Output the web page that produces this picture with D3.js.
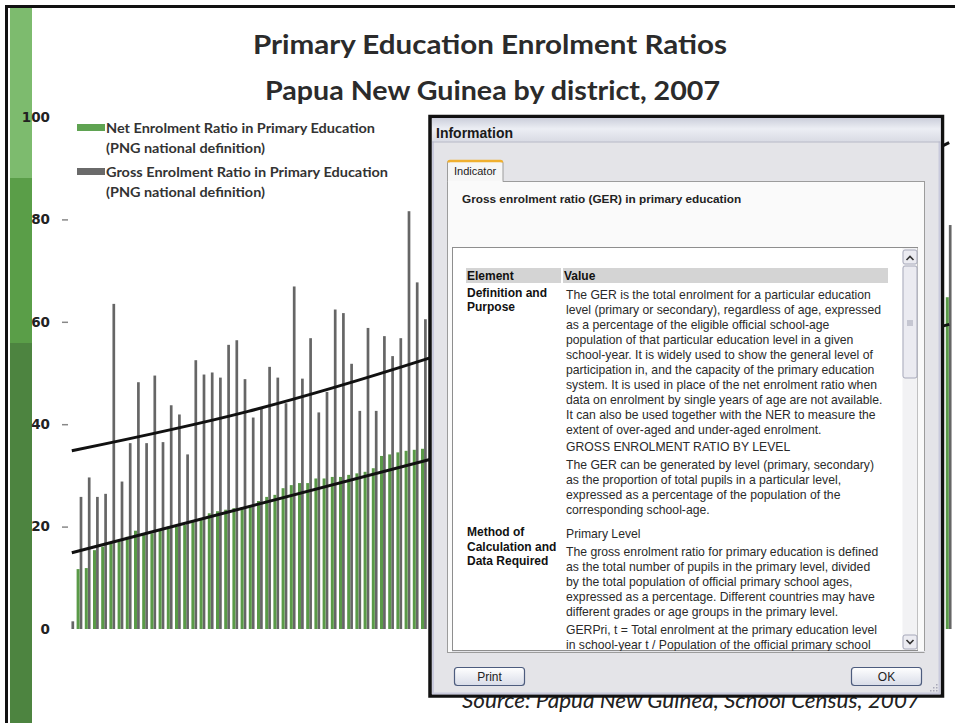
<!DOCTYPE html>
<html>
<head>
<meta charset="utf-8">
<script src="https://cdn.jsdelivr.net/npm/d3@7"></script>
<style>
  html, body { margin: 0; padding: 0; background: #fff; }
  svg { display: block; }
</style>
</head>
<body>
<div id="chart"></div>
<script>
// districts, sorted by net enrolment ratio (index position along the axis)
var districts = [0, 1, 2, 3, 4, 5, 6, 7, 8, 9, 10, 11, 12, 13, 14, 15, 16, 17, 18, 19, 20, 21,
	22, 23, 24, 25, 26, 27, 28, 29, 30, 31, 32, 33, 34, 35, 36, 37, 38, 39, 40, 41, 42, 43, 107];

var nerValues = [0, 11.7, 11.9, 15.4, 16.1, 16.7, 17.1, 18.0, 19.2, 18.4, 18.7, 19.3, 20.0, 20.0,
	20.3, 21.0, 21.3, 22.6, 23.0, 23.3, 23.6, 23.8, 24.2, 25.0, 25.8, 26.2, 27.5, 28.1, 28.5, 28.5,
	29.4, 29.4, 29.7, 29.7, 30.1, 30.4, 30.7, 31.4, 33.8, 34.1, 34.5, 34.8, 35.0, 35.2, 64.8];

var gerValues = [1.5, 25.8, 29.6, 25.8, 26.4, 63.5, 28.8, 36.3, 48.2, 36.3, 49.5, 36.5, 43.7, 41.9,
	34.1, 52.5, 49.7, 50.1, 49.1, 55.5, 56.4, 48.8, 41.3, 43.0, 51.2, 49.1, 44.1, 66.9, 48.9, 56.8,
	42.3, 46.3, 62.4, 61.7, 51.8, 42.6, 58.8, 42.6, 57.2, 53.3, 56.8, 81.6, 67.7, 60.5, 78.9];

// trend lines, [district position, value]
var nerTrend = [[0, 14.9], [107, 59.5]];
var gerTrend = [[0, 34.8], [21.5, 42.5], [43.2, 52.7], [75, 71], [107, 95]];

var yTicks = [0, 20, 40, 60, 80, 100];

var seriesNames = [
	['Net Enrolment Ratio in Primary Education', '(PNG national definition)'],
	['Gross Enrolment Ratio in Primary Education', '(PNG national definition)']
];
var legendWidths = [[269, 159], [282, 159]];

var titleLines = ['Primary Education Enrolment Ratios', 'Papua New Guinea by district, 2007'];
var titleWidths = [474, 455];
var sourceText = 'Source: Papua New Guinea, School Census, 2007';

// dialog text
var dialogTitle = 'Information';
var tabLabel = 'Indicator';
var indicatorName = 'Gross enrolment ratio (GER) in primary education';
var tableHead = ['Element', 'Value'];
var tableRows = [
	{
		label: ['Definition and', 'Purpose'],
		paras: [
			['The GER is the total enrolment for a particular education',
			 'level (primary or secondary), regardless of age, expressed',
			 'as a percentage of the eligible official school-age',
			 'population of that particular education level in a given',
			 'school-year. It is widely used to show the general level of',
			 'participation in, and the capacity of the primary education',
			 'system. It is used in place of the net enrolment ratio when',
			 'data on enrolment by single years of age are not available.',
			 'It can also be used together with the NER to measure the',
			 'extent of over-aged and under-aged enrolment.'],
			['GROSS ENROLMENT RATIO BY LEVEL'],
			['The GER can be generated by level (primary, secondary)',
			 'as the proportion of total pupils in a particular level,',
			 'expressed as a percentage of the population of the',
			 'corresponding school-age.']
		]
	},
	{
		label: ['Method of', 'Calculation and', 'Data Required'],
		paras: [
			['Primary Level'],
			['The gross enrolment ratio for primary education is defined',
			 'as the total number of pupils in the primary level, divided',
			 'by the total population of official primary school ages,',
			 'expressed as a percentage. Different countries may have',
			 'different grades or age groups in the primary level.'],
			['GERPri, t = Total enrolment at the primary education level',
			 'in school-year t / Population of the official primary school']
		]
	}
];
var buttons = ['Print', 'OK'];

var W = 955, H = 723;
var svg = d3.select('#chart').append('svg')
	.attr('width', W)
	.attr('height', H);

var defs = svg.append('defs');
var tg = defs.append('linearGradient').attr('id', 'titlebar').attr('x1', 0).attr('y1', 0).attr('x2', 0).attr('y2', 1);
tg.append('stop').attr('offset', '0%').attr('stop-color', '#cdd0dc');
tg.append('stop').attr('offset', '45%').attr('stop-color', '#eceef4');
tg.append('stop').attr('offset', '100%').attr('stop-color', '#d9dbe4');
var bg = defs.append('linearGradient').attr('id', 'btn').attr('x1', 0).attr('y1', 0).attr('x2', 0).attr('y2', 1);
bg.append('stop').attr('offset', '0%').attr('stop-color', '#ffffff');
bg.append('stop').attr('offset', '100%').attr('stop-color', '#d8dce8');

svg.append('rect').attr('width', W).attr('height', H).attr('fill', '#fff');

// slide frame and green side strip
svg.append('rect').attr('x', 5).attr('y', 5).attr('width', W - 5).attr('height', 3).attr('fill', '#111');
svg.append('rect').attr('x', 5).attr('y', 5).attr('width', 3).attr('height', H - 5).attr('fill', '#111');
svg.append('rect').attr('x', 10).attr('y', 8).attr('width', 22).attr('height', 170).attr('fill', '#7dbb6e');
svg.append('rect').attr('x', 10).attr('y', 178).attr('width', 22).attr('height', 165).attr('fill', '#5a9e48');
svg.append('rect').attr('x', 10).attr('y', 343).attr('width', 22).attr('height', H - 343).attr('fill', '#4d8440');

// title
svg.append('g').selectAll('text')
	.data(titleLines)
	.enter().append('text')
	.attr('x', function(d, i) { return i === 0 ? 253 : 265; })
	.attr('y', function(d, i) { return 54 + i * 46; })
	.attr('font-family', 'Lato, sans-serif')
	.attr('font-weight', 'bold')
	.attr('font-size', 26)
	.attr('textLength', function(d, i) { return titleWidths[i]; })
	.attr('lengthAdjust', 'spacingAndGlyphs')
	.attr('fill', '#2b2b2b')
	.text(function(d) { return d; });

// scales
var x = d3.scaleLinear().domain([0, 107]).range([72.8, 950.2]);
var y = d3.scaleLinear().domain([0, 100]).range([629, 117]);

// y axis
var yAxis = d3.axisLeft(y).tickValues(yTicks).tickSize(0).tickPadding(0);
var ax = svg.append('g').attr('transform', 'translate(50,0)').call(yAxis);
ax.select('.domain').remove();
ax.selectAll('text')
	.attr('font-family', 'DejaVu Sans, sans-serif')
	.attr('font-weight', 'bold')
	.attr('font-size', 13.5)
	.attr('fill', '#222');
ax.selectAll('.tick').filter(function(d) { return d > 0 && d < 100; })
	.append('line')
	.attr('x1', 12).attr('x2', 18)
	.attr('stroke', '#888').attr('stroke-width', 1.5);

var pairs = districts.map(function(d, i) { return { pos: d, ner: nerValues[i], ger: gerValues[i] }; });

var bars = svg.append('g').attr('class', 'bars');
bars.selectAll('rect.ger')
	.data(pairs)
	.enter().append('rect')
	.attr('class', 'ger')
	.attr('x', function(d) { return x(d.pos) - 1.35; })
	.attr('y', function(d) { return y(d.ger); })
	.attr('width', 2.7)
	.attr('height', function(d) { return y(0) - y(d.ger); })
	.attr('fill', '#666');
bars.selectAll('rect.ner')
	.data(pairs.filter(function(d) { return d.ner > 0; }))
	.enter().append('rect')
	.attr('class', 'ner')
	.attr('x', function(d) { return x(d.pos) - 4.4; })
	.attr('y', function(d) { return y(d.ner); })
	.attr('width', 3)
	.attr('height', function(d) { return y(0) - y(d.ner); })
	.attr('fill', '#5a9a48');

// trend lines
var line = d3.line()
	.x(function(d) { return x(d[0]) - 1; })
	.y(function(d) { return y(d[1]); });
svg.append('path')
	.attr('d', line.curve(d3.curveMonotoneX)(gerTrend))
	.attr('fill', 'none').attr('stroke', '#111').attr('stroke-width', 3);
svg.append('path')
	.attr('d', line.curve(d3.curveLinear)(nerTrend))
	.attr('fill', 'none').attr('stroke', '#111').attr('stroke-width', 3);

// legend
var legend = svg.append('g').attr('class', 'legend');
var legendColors = ['#5fa352', '#6a6a6a'];
seriesNames.forEach(function(lines, i) {
	var top = 124 + i * 44;
	legend.append('rect')
		.attr('x', 77).attr('y', top)
		.attr('width', 28).attr('height', 7)
		.attr('fill', legendColors[i]);
	legend.selectAll('text.l' + i)
		.data(lines)
		.enter().append('text')
		.attr('class', 'l' + i)
		.attr('x', 106)
		.attr('y', function(d, j) { return top + 8.5 + j * 20; })
		.attr('font-family', 'Lato, sans-serif')
		.attr('font-weight', 'bold')
		.attr('font-size', 13.5)
		.attr('textLength', function(d, j) { return legendWidths[i][j]; })
		.attr('lengthAdjust', 'spacingAndGlyphs')
		.attr('fill', '#333')
		.text(function(d) { return d; });
});

// source note (partly covered by the dialog)
svg.append('text')
	.attr('x', 462).attr('y', 708)
	.attr('font-family', 'Lato, sans-serif')
	.attr('font-style', 'italic')
	.attr('font-size', 21)
	.attr('textLength', 458)
	.attr('lengthAdjust', 'spacingAndGlyphs')
	.attr('fill', '#222')
	.text(sourceText);

// ---- Information dialog ----
var dlg = svg.append('g').attr('class', 'dialog');
var sans = 'Liberation Sans, Arial, sans-serif';

dlg.append('rect').attr('x', 430).attr('y', 116.5).attr('width', 512.5).attr('height', 579.5)
	.attr('fill', '#e4e4e8').attr('stroke', '#111').attr('stroke-width', 3.5);
dlg.append('rect').attr('x', 433).attr('y', 119).attr('width', 506.5).attr('height', 574.5)
	.attr('fill', 'none').attr('stroke', '#c9cadc').attr('stroke-width', 2);
dlg.append('rect').attr('x', 432).attr('y', 118.5).attr('width', 508.5).attr('height', 23)
	.attr('fill', 'url(#titlebar)');
dlg.append('line').attr('x1', 432).attr('x2', 940).attr('y1', 142).attr('y2', 142)
	.attr('stroke', '#b5b7c6');
dlg.append('text')
	.attr('x', 436).attr('y', 137.5)
	.attr('font-family', sans).attr('font-weight', 'bold').attr('font-size', 14)
	.attr('fill', '#1a1a1a')
	.text(dialogTitle);

// tab panel
dlg.append('rect').attr('x', 447.5).attr('y', 181.5).attr('width', 477).attr('height', 471)
	.attr('fill', '#fafafa').attr('stroke', '#9c9c9c');
dlg.append('path')
	.attr('d', 'M447.5,181.5 V163 Q447.5,160.5 450,160.5 H500.5 Q503,160.5 503,163 V181.5')
	.attr('fill', '#f6f6f6').attr('stroke', '#9c9c9c');
dlg.append('path')
	.attr('d', 'M448.5,162.5 Q448.5,161 450,161 H500.5 Q502,161 502,162.5')
	.attr('fill', 'none').attr('stroke', '#f0b030').attr('stroke-width', 2.5);
dlg.append('line').attr('x1', 448).attr('x2', 502.5).attr('y1', 181.5).attr('y2', 181.5)
	.attr('stroke', '#fafafa').attr('stroke-width', 1.5);
dlg.append('text')
	.attr('x', 454).attr('y', 175)
	.attr('font-family', sans).attr('font-size', 11)
	.attr('fill', '#222')
	.text(tabLabel);
dlg.append('text')
	.attr('x', 462).attr('y', 203)
	.attr('font-family', sans).attr('font-weight', 'bold').attr('font-size', 11.8)
	.attr('fill', '#222')
	.text(indicatorName);

// scroll box
dlg.append('rect').attr('x', 452.5).attr('y', 247.5).attr('width', 465).attr('height', 403)
	.attr('fill', '#fff').attr('stroke', '#8e8e8e');
dlg.append('rect').attr('x', 902.5).attr('y', 248).attr('width', 15).attr('height', 402)
	.attr('fill', '#f2f2f4');
function sbButton(y0, h) {
	dlg.append('rect').attr('x', 903).attr('y', y0).attr('width', 14).attr('height', h).attr('rx', 2)
		.attr('fill', '#ebebf1').attr('stroke', '#a7a9ba');
}
sbButton(250, 14);
sbButton(266, 112);
sbButton(635, 14);
dlg.append('path').attr('d', 'M906.5,260 L910,256.5 L913.5,260').attr('fill', 'none')
	.attr('stroke', '#333').attr('stroke-width', 1.6);
dlg.append('path').attr('d', 'M906.5,640 L910,643.5 L913.5,640').attr('fill', 'none')
	.attr('stroke', '#333').attr('stroke-width', 1.6);
[321, 323, 325].forEach(function(gy) {
	dlg.append('line').attr('x1', 907).attr('x2', 913).attr('y1', gy).attr('y2', gy)
		.attr('stroke', '#a0a2b2');
});

// table
dlg.append('rect').attr('x', 466).attr('y', 268).attr('width', 95).attr('height', 15).attr('fill', '#d4d4d4');
dlg.append('rect').attr('x', 563).attr('y', 268).attr('width', 325).attr('height', 15).attr('fill', '#d4d4d4');
dlg.selectAll('text.head')
	.data(tableHead)
	.enter().append('text')
	.attr('class', 'head')
	.attr('x', function(d, i) { return i === 0 ? 467 : 564; })
	.attr('y', 280)
	.attr('font-family', sans).attr('font-weight', 'bold').attr('font-size', 12)
	.attr('fill', '#111')
	.text(function(d) { return d; });

var rowTop = [298.5, 538];
tableRows.forEach(function(row, r) {
	dlg.selectAll('text.lab' + r)
		.data(row.label)
		.enter().append('text')
		.attr('x', 467)
		.attr('y', function(d, j) { return rowTop[r] - 2 + j * 14.5; })
		.attr('font-family', sans).attr('font-weight', 'bold').attr('font-size', 12)
		.attr('fill', '#111')
		.text(function(d) { return d; });
	var yy = rowTop[r];
	row.paras.forEach(function(p, k) {
		if (k > 0) yy += 2.8;
		p.forEach(function(t) {
			dlg.append('text')
				.attr('x', 566).attr('y', yy)
				.attr('font-family', sans).attr('font-size', 12.2)
				.attr('fill', '#2a2a2a')
				.text(t);
			yy += 15;
		});
	});
});

// keep the table inside the scroll box
dlg.append('rect').attr('x', 452).attr('y', 651).attr('width', 474).attr('height', 2).attr('fill', '#e4e4e8');
dlg.append('line').attr('x1', 447.5).attr('x2', 924.5).attr('y1', 652.5).attr('y2', 652.5).attr('stroke', '#9c9c9c');

// buttons
var btnX = [454, 851];
buttons.forEach(function(b, i) {
	dlg.append('rect').attr('x', btnX[i] + 0.5).attr('y', 667.5).attr('width', 70).attr('height', 18).attr('rx', 3)
		.attr('fill', 'url(#btn)').attr('stroke', '#4d5c7e').attr('stroke-width', 1.2);
	dlg.append('text')
		.attr('x', btnX[i] + 35.5).attr('y', 681)
		.attr('text-anchor', 'middle')
		.attr('font-family', sans).attr('font-size', 12)
		.attr('fill', '#222')
		.text(b);
});
// resize grip
[[936, 690], [933, 690], [936, 687], [930, 690], [933, 687], [936, 684]].forEach(function(p) {
	dlg.append('rect').attr('x', p[0]).attr('y', p[1]).attr('width', 1.5).attr('height', 1.5).attr('fill', '#a8a8b8');
});
</script>
</body>
</html>
